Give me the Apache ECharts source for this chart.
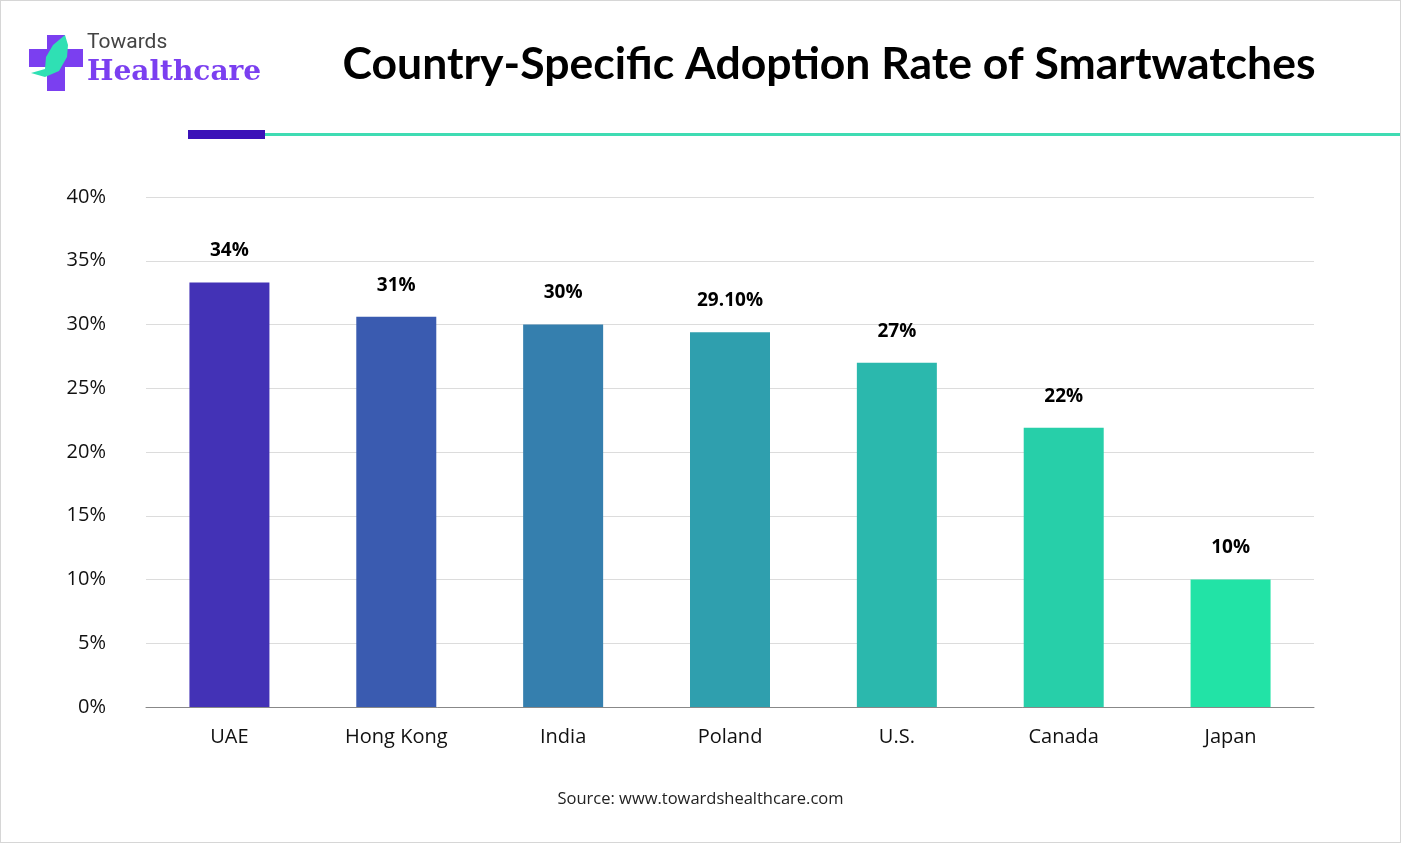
<!DOCTYPE html>
<html>
<head>
<meta charset="utf-8">
<script src="https://cdn.jsdelivr.net/npm/echarts@6/dist/echarts.min.js"></script>
<style>
  html, body { margin: 0; padding: 0; background: #fff; }
  #chart { width: 1401px; height: 843px; box-sizing: border-box; border: 1px solid #d6d6d6; }
</style>
</head>
<body>
<div id="chart"></div>
<script>
const countries = ['UAE', 'Hong Kong', 'India', 'Poland', 'U.S.', 'Canada', 'Japan']
const rates = [33.3, 30.6, 30, 29.4, 27, 21.9, 10]
const rateLabels = ['34%', '31%', '30%', '29.10%', '27%', '22%', '10%']
const barColors = ['#4332b6', '#3a5bb0', '#357fae', '#2f9fae', '#2bb8ad', '#27cfa9', '#22e3a6']

const chart = echarts.init(document.getElementById('chart'))
const font = '"Open Sans", "Noto Sans", sans-serif'

let option = {
  animation: false,
  title: {
    text: 'Country-Specific Adoption Rate of Smartwatches',
    left: 823, top: 36, textAlign: 'center',
    textStyle: { fontFamily: 'Lato, "Open Sans", sans-serif', fontSize: 44.5, fontWeight: 'bold', color: '#000' }
  },
  graphic: [
    // logo cross + leaf
    { type: 'rect', shape: { x: 28, y: 48, width: 54, height: 18 }, style: { fill: '#7b3ff0' } },
    { type: 'rect', shape: { x: 46, y: 34, width: 18, height: 56 }, style: { fill: '#7b3ff0' } },
    { type: 'polygon', shape: { points: [[30, 72], [44, 76], [58, 70], [66, 56], [67, 44], [64, 34], [52, 44], [45, 56], [44, 68]] }, style: { fill: '#2fe0b4' } },
    { type: 'text', left: 86, top: 31, style: { text: 'Towards', fontFamily: 'Roboto, sans-serif', fontSize: 21, fill: '#444' } },
    { type: 'text', left: 86, top: 58, style: { text: 'Healthcare', fontFamily: '"DejaVu Serif", serif', fontSize: 28, fontWeight: 'bold', fill: '#7b3ff0' } },
    // header rule
    { type: 'rect', shape: { x: 264, y: 132, width: 1137, height: 3 }, style: { fill: '#3fdcb3' } },
    { type: 'rect', shape: { x: 187, y: 129, width: 77, height: 9 }, style: { fill: '#3b12b8' } },
    { type: 'text', left: 'center', top: 790, style: { text: 'Source: www.towardshealthcare.com', fontFamily: font, fontSize: 16.5, fill: '#222' } }
  ],
  grid: { left: 145, right: 86, top: 196, bottom: 135 },
  xAxis: {
    type: 'category',
    data: countries,
    axisTick: { show: false },
    axisLine: { lineStyle: { color: '#888' } },
    axisLabel: { margin: 20, fontFamily: font, fontSize: 20, color: '#111' }
  },
  yAxis: {
    type: 'value',
    min: 0, max: 40, interval: 5,
    axisLabel: { formatter: '{value}%', margin: 40, fontFamily: font, fontSize: 20, color: '#111' },
    splitLine: { lineStyle: { color: '#dcdcdc' } }
  },
  series: [{
    type: 'bar',
    barWidth: 80,
    data: rates.map((v, i) => ({
      value: v,
      itemStyle: { color: barColors[i] },
      label: { formatter: rateLabels[i] }
    })),
    label: {
      show: true, position: 'top', distance: 22,
      fontFamily: font, fontSize: 19, fontWeight: 'bold', color: '#000'
    }
  }]
}

chart.setOption(option)
</script>
</body>
</html>
